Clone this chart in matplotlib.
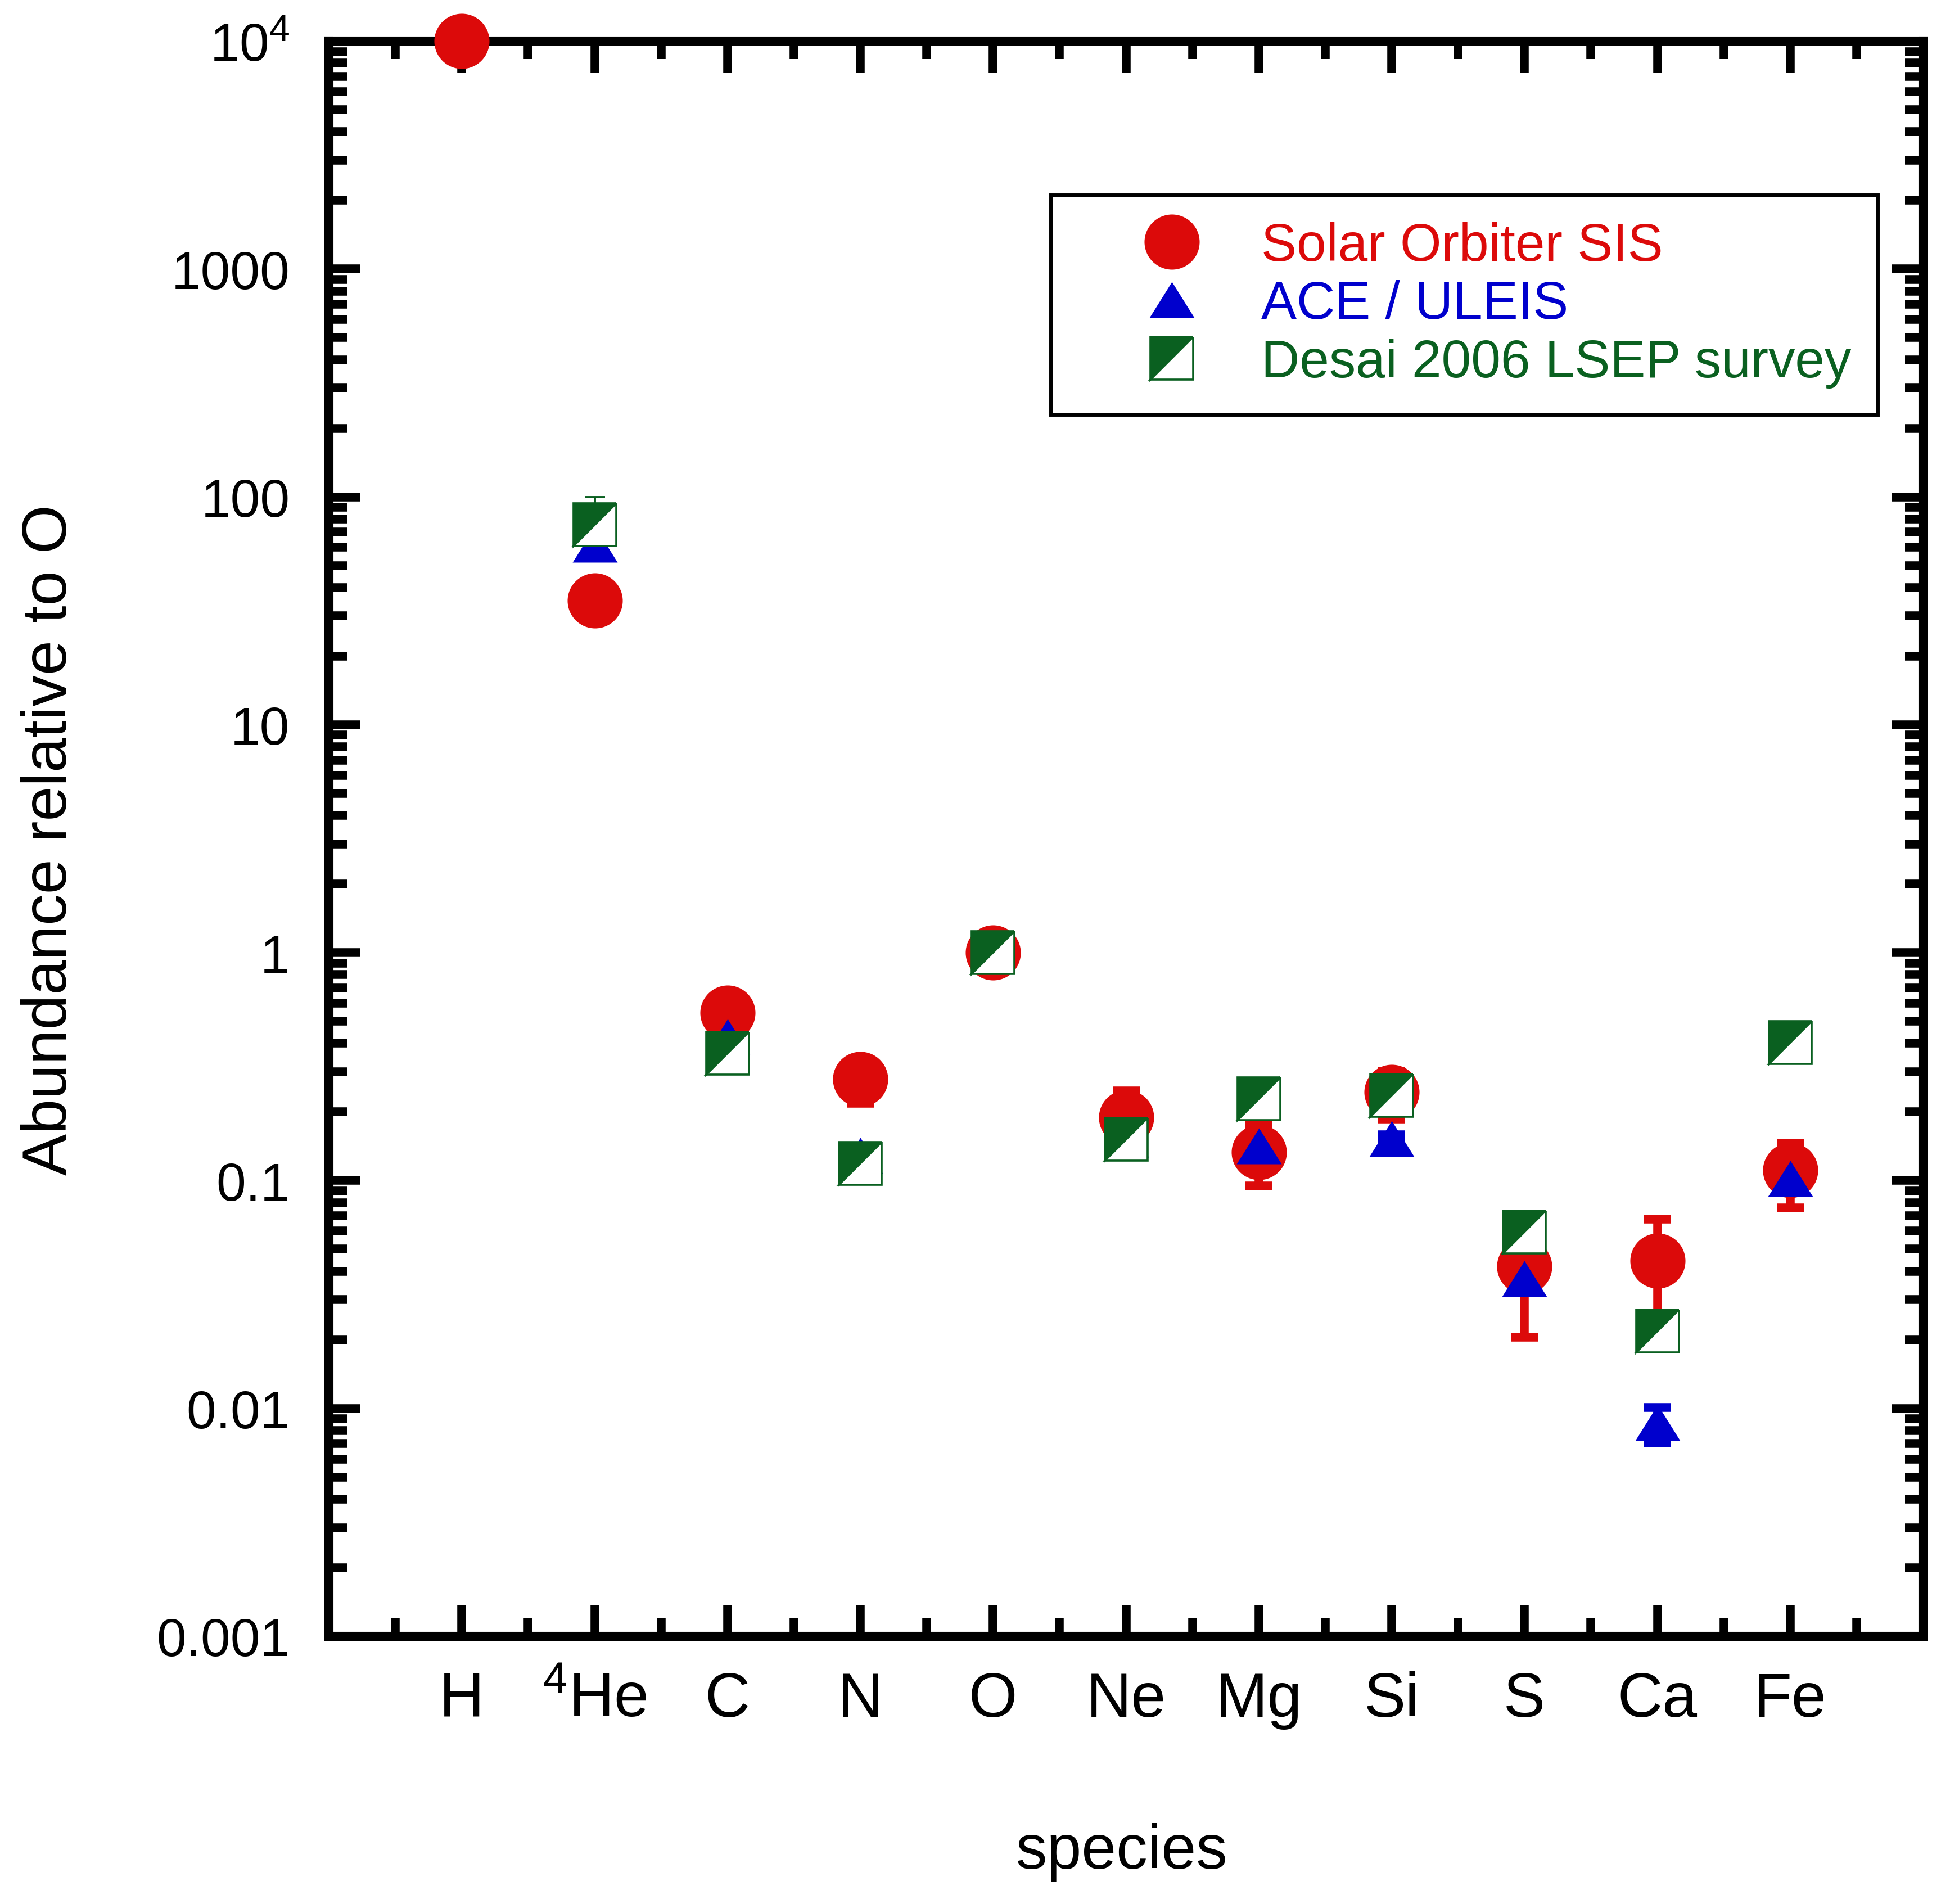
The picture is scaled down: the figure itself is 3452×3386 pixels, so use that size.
import numpy as np
import matplotlib
matplotlib.use('Agg')
import matplotlib.pyplot as plt
from matplotlib.markers import MarkerStyle
from matplotlib.transforms import Affine2D
from matplotlib.ticker import LogLocator, NullFormatter, FixedLocator

plt.rcParams['font.family'] = ['Liberation Sans', 'DejaVu Sans']
plt.rcParams['mathtext.fontset'] = 'custom'
plt.rcParams['mathtext.rm'] = 'Liberation Sans'
plt.rcParams['mathtext.it'] = 'Liberation Sans:italic'

# species on the x axis
species = ['H', r'$\mathregular{^4}$He', 'C', 'N', 'O', 'Ne', 'Mg', 'Si', 'S', 'Ca', 'Fe']

# Solar Orbiter SIS (abundance relative to O) and error bars
sis = [10000, 35, 0.545, 0.278, 1.0, 0.189, 0.133, 0.244, 0.042, 0.0446, 0.111]
sis_lo = [0, 0, 0, 0.060, 0, 0.058, 0.0385, 0.058, 0.0214, 0.023, 0.035]
sis_hi = [0, 0, 0, 0.060, 0, 0.058, 0.042, 0.058, 0.0214, 0.023, 0.035]

# ACE / ULEIS
ace = [np.nan, 62, 0.426, 0.129, 1.0, 0.152, 0.142, 0.153, 0.037, 0.00867, 0.1017]
ace_lo = [0, 0, 0, 0, 0, 0, 0, 0.006, 0, 0.0016, 0]
ace_hi = [0, 0, 0, 0, 0, 0, 0, 0.006, 0, 0.0014, 0]

# Desai 2006 LSEP survey
desai = [np.nan, 75.7, 0.361, 0.119, 1.0, 0.152, 0.229, 0.236, 0.0593, 0.0219, 0.403]
desai_lo = [0, 0, 0, 0, 0, 0, 0, 0, 0, 0, 0]
desai_hi = [0, 24, 0, 0, 0, 0, 0, 0, 0, 0, 0]

red = '#DC0A0A'
blue = '#0000CD'
green = '#0A6020'

x = np.arange(1, len(species) + 1)

fig = plt.figure(figsize=(17.26, 16.935), dpi=200)
ax = fig.add_axes([0.16947, 0.14054, 0.99073 - 0.16947, 0.97815 - 0.14054])


def err_plot(vals, lo, hi, color, lw, cap, z):
    vals = np.array(vals, dtype=float)
    lo = np.array(lo, dtype=float)
    hi = np.array(hi, dtype=float)
    m = (lo > 0) | (hi > 0)
    if m.any():
        ax.errorbar(x[m], vals[m], yerr=[lo[m], hi[m]], fmt='none', ecolor=color,
                    elinewidth=lw, capsize=cap, capthick=lw, zorder=z, clip_on=False)


tri = [(0, 0.8), (-1, -0.8), (1, -0.8), (0, 0.8)]
half_sq = MarkerStyle('D', fillstyle='left', transform=Affine2D().rotate_deg(-45))

err_plot(sis, sis_lo, sis_hi, red, 5.6, 8.6, 3)
l1, = ax.plot(x, sis, ls='none', marker='o', ms=35.3, mfc=red, mec=red, mew=0,
              zorder=4, clip_on=False, label='Solar Orbiter SIS')
err_plot(ace, ace_lo, ace_hi, blue, 5.6, 8.6, 5)
l2, = ax.plot(x, ace, ls='none', marker=tri, ms=28.8, mfc=blue, mec=blue, mew=0,
              zorder=6, clip_on=False, label='ACE / ULEIS')
err_plot(desai, desai_lo, desai_hi, green, 1.4, 6.5, 7)
l3, = ax.plot(x, desai, ls='none', marker=half_sq, ms=27.5, mfc=green,
              markerfacecoloralt='white', mec=green, mew=1.3,
              zorder=8, clip_on=False, label='Desai 2006 LSEP survey')

ax.set_yscale('log')
ax.set_ylim(1e-3, 1e4)
ax.set_xlim(0, 12)

ax.set_yticks([1e-3, 1e-2, 1e-1, 1, 10, 100, 1000, 1e4],
              ['0.001', '0.01', '0.1', '1', '10', '100', '1000', r'$\mathregular{10^4}$'])
ax.yaxis.set_minor_locator(LogLocator(base=10, subs=np.arange(2, 10), numticks=20))
ax.yaxis.set_minor_formatter(NullFormatter())
ax.set_xticks(x, species)
ax.xaxis.set_minor_locator(FixedLocator(np.arange(0.5, 12, 1.0)))

for s in ax.spines.values():
    s.set_linewidth(5.8)
ax.tick_params(which='both', direction='in', top=True, right=True, width=5.6)
ax.tick_params(which='major', length=20)
ax.tick_params(which='minor', length=11.5)
ax.tick_params(axis='y', labelsize=34, pad=25)
ax.tick_params(axis='x', labelsize=40, pad=51)
for lab in ax.get_xticklabels():
    lab.set_verticalalignment('baseline')

fig.text(118 / 3452, 1 - 1494 / 3387, 'Abundance relative to O', fontsize=40,
         rotation=90, rotation_mode='anchor', ha='center', va='baseline')
fig.text(1995 / 3452, 1 - 3323 / 3387, 'species', fontsize=40, ha='center', va='baseline')

leg = ax.legend(handles=[l1, l2, l3], loc='upper left',
                bbox_to_anchor=(1869 / 3452, 1 - 348 / 3387), bbox_transform=fig.transFigure,
                borderaxespad=0, borderpad=0.5, handlelength=3.55, handletextpad=-0.09,
                labelspacing=0.15, numpoints=1, fontsize=34, fancybox=False,
                framealpha=1, edgecolor='black', labelcolor=[red, blue, green])
leg.get_frame().set_linewidth(2.5)
leg.set_zorder(10)

fig.savefig('out.png', dpi=200)
